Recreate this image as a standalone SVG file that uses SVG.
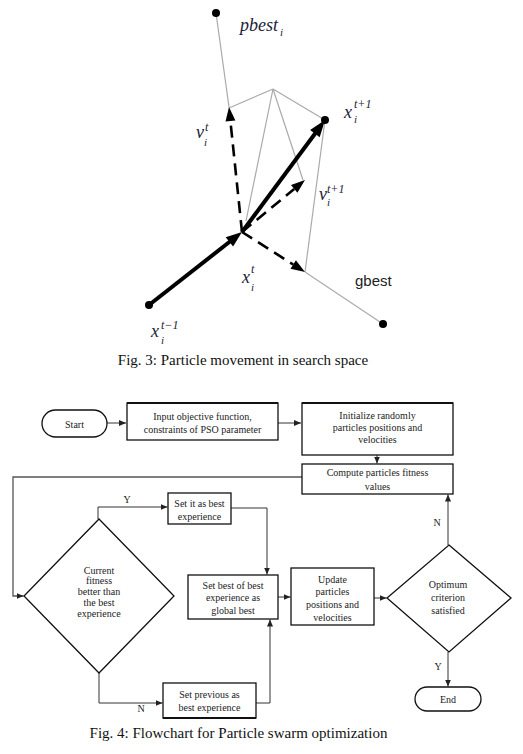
<svg xmlns="http://www.w3.org/2000/svg" width="523" height="754" viewBox="0 0 523 754">
<defs>
<style>
.g{stroke:#aaa;stroke-width:1.2;fill:none}
.thick{stroke:#000;stroke-width:4;fill:none}
.dash{stroke:#000;stroke-width:2.6;fill:none;stroke-dasharray:12 7}
.m{font-family:"Liberation Serif","Times New Roman",serif;font-style:italic;fill:#1c2238}
.cap{font-family:"Liberation Serif","Times New Roman",serif;font-size:15px;fill:#111}
.t{font-family:"Liberation Serif","Times New Roman",serif;font-size:10px;fill:#222;text-anchor:middle}
.box{fill:#fff;stroke:#111;stroke-width:1.3}
.c{stroke:#333;stroke-width:1;fill:none}
</style>
<marker id="ah" markerUnits="userSpaceOnUse" markerWidth="8" markerHeight="6" refX="7" refY="3" orient="auto">
<path d="M0,0 L7,3 L0,6 z" fill="#222"/>
</marker>
</defs>
<rect width="523" height="754" fill="#fff"/>

<g id="fig3">
<g id="guides">
<line class="g" x1="216" y1="13" x2="229" y2="107"/>
<line class="g" x1="229" y1="108" x2="273" y2="89"/>
<line class="g" x1="273" y1="89" x2="325" y2="120"/>
<line class="g" x1="273" y1="89" x2="246" y2="221"/>
<line class="g" x1="273" y1="89" x2="303" y2="180"/>
<line class="g" x1="325" y1="120" x2="305" y2="272"/>
<line class="g" x1="305" y1="272" x2="383" y2="324"/>
</g>
<g id="vectors">
<line class="thick" x1="149" y1="305" x2="230" y2="241.5"/>
<polygon points="242,232 233.1,246.6 225.7,237.2" fill="#000"/>
<line class="thick" x1="242" y1="232" x2="315.5" y2="133"/>
<polygon points="325,120 319.7,137.3 310.1,130.1" fill="#000"/>
<line class="dash" x1="242" y1="232" x2="230.4" y2="121"/>
<polygon points="229,107 235.4,120.4 225.5,121.4" fill="#000"/>
<line class="dash" x1="242" y1="232" x2="294.2" y2="189"/>
<polygon points="305,180 297.4,192.8 291,185" fill="#000"/>
<line class="dash" x1="242" y1="232" x2="293.2" y2="264.5"/>
<polygon points="305,272 290.5,268.7 295.9,260.3" fill="#000"/>
</g>
<g id="points">
<circle cx="216" cy="13" r="4" fill="#000"/>
<circle cx="325" cy="120" r="4" fill="#000"/>
<circle cx="149" cy="305" r="4" fill="#000"/>
<circle cx="383" cy="324" r="4" fill="#000"/>
</g>
<g id="labels">
<text class="m" x="240" y="31" font-size="18">pbest</text>
<text class="m" x="280" y="36" font-size="11">i</text>
<text class="m" x="196" y="138" font-size="18">v</text>
<text class="m" x="205" y="131" font-size="12">t</text>
<text class="m" x="204" y="146" font-size="11">i</text>
<text class="m" x="344" y="118" font-size="18">x</text>
<text class="m" x="354" y="108" font-size="12">t+1</text>
<text class="m" x="354" y="123" font-size="11">i</text>
<text class="m" x="319" y="200" font-size="18">v</text>
<text class="m" x="327" y="193" font-size="12">t+1</text>
<text class="m" x="327" y="206" font-size="11">i</text>
<text class="m" x="242" y="283" font-size="18">x</text>
<text class="m" x="251" y="273" font-size="12">t</text>
<text class="m" x="251" y="291" font-size="11">i</text>
<text class="m" x="151" y="337" font-size="18">x</text>
<text class="m" x="161" y="329" font-size="12">t−1</text>
<text class="m" x="161" y="344" font-size="11">i</text>
<text x="355" y="286" font-family="Liberation Sans, Arial, sans-serif" font-size="15" fill="#222">gbest</text>
</g>
<text class="cap" x="243" y="365" text-anchor="middle">Fig. 3: Particle movement in search space</text>
</g>

<g id="connectors">
<line class="c" x1="107" y1="423" x2="126" y2="423" marker-end="url(#ah)"/>
<line class="c" x1="278" y1="423" x2="301" y2="423" marker-end="url(#ah)"/>
<line class="c" x1="377" y1="455" x2="377" y2="463.5" marker-end="url(#ah)"/>
<polyline points="302,477 13,477 13,596 23.5,596" fill="none" stroke="#555" stroke-width="1.3" marker-end="url(#ah)"/>
<polyline class="c" points="98,519 98,507 167.5,507" marker-end="url(#ah)"/>
<polyline class="c" points="231,508 267,508 267,574.5" marker-end="url(#ah)"/>
<line class="c" x1="278" y1="597" x2="290.5" y2="597" marker-end="url(#ah)"/>
<line class="c" x1="374" y1="598" x2="386.5" y2="598" marker-end="url(#ah)"/>
<line class="c" x1="448" y1="545" x2="448" y2="494.5" marker-end="url(#ah)"/>
<line class="c" x1="448" y1="652" x2="448" y2="686.5" marker-end="url(#ah)"/>
<polyline class="c" points="99,673 99,703 162.5,703" marker-end="url(#ah)"/>
<polyline class="c" points="256,703 270,703 270,619.5" marker-end="url(#ah)"/>
<text class="t" x="127" y="503">Y</text>
<text class="t" x="141" y="712">N</text>
<text class="t" x="437" y="526">N</text>
<text class="t" x="438" y="670">Y</text>
</g>

<g id="start">
<rect class="box" x="42" y="410" width="65" height="27" rx="13.5"/>
<text class="t" x="74.5" y="427.5">Start</text>
</g>
<g id="input">
<rect class="box" x="127" y="403" width="151" height="37"/>
<line x1="127" y1="403" x2="278" y2="403" stroke="#111" stroke-width="2"/>
<text class="t" x="202.5" y="419.5">Input objective function,</text>
<text class="t" x="202.5" y="432.5">constraints of PSO parameter</text>
</g>
<g id="init">
<rect class="box" x="302" y="403" width="151" height="52"/>
<line x1="302" y1="403" x2="453" y2="403" stroke="#111" stroke-width="2"/>
<text class="t" x="377.5" y="418.5">Initialize randomly</text>
<text class="t" x="377.5" y="430.5">particles positions and</text>
<text class="t" x="377.5" y="443">velocities</text>
</g>
<g id="compute">
<rect class="box" x="302" y="464" width="151" height="30"/>
<text class="t" x="377.5" y="476">Compute particles fitness</text>
<text class="t" x="377.5" y="489.5">values</text>
</g>
<g id="current">
<polygon class="box" points="99,519 174,596 99,673 24,596"/>
<text class="t" x="99" y="573.5">Current</text>
<text class="t" x="99" y="584.3">fitness</text>
<text class="t" x="99" y="595.1">better than</text>
<text class="t" x="99" y="605.9">the best</text>
<text class="t" x="99" y="616.7">experience</text>
</g>
<g id="setit">
<rect class="box" x="168" y="493" width="63" height="31"/>
<text class="t" x="199.5" y="506.5">Set it as best</text>
<text class="t" x="199.5" y="519.5">experience</text>
</g>
<g id="setbest">
<rect class="box" x="188" y="575" width="90" height="44"/>
<text class="t" x="233" y="588.5">Set best of best</text>
<text class="t" x="233" y="600.5">experience as</text>
<text class="t" x="233" y="613.5">global best</text>
</g>
<g id="update">
<rect class="box" x="291" y="568" width="83" height="57"/>
<text class="t" x="332.5" y="582.5">Update</text>
<text class="t" x="332.5" y="595">particles</text>
<text class="t" x="332.5" y="607.5">positions and</text>
<text class="t" x="332.5" y="620.5">velocities</text>
</g>
<g id="optimum">
<polygon class="box" points="449,545 511,598 449,652 387,598"/>
<text class="t" x="448" y="587.5">Optimum</text>
<text class="t" x="448" y="601">criterion</text>
<text class="t" x="448" y="613.5">satisfied</text>
</g>
<g id="setprev">
<rect class="box" x="163" y="683" width="93" height="35"/>
<line x1="163" y1="718" x2="256" y2="718" stroke="#111" stroke-width="2"/>
<text class="t" x="209.5" y="697.5">Set previous as</text>
<text class="t" x="209.5" y="710.5">best experience</text>
</g>
<g id="end">
<rect class="box" x="415" y="687" width="66" height="24" rx="12"/>
<text class="t" x="448" y="702.5">End</text>
</g>
<text class="cap" x="238.5" y="738" text-anchor="middle">Fig. 4: Flowchart for Particle swarm optimization</text>
</svg>
